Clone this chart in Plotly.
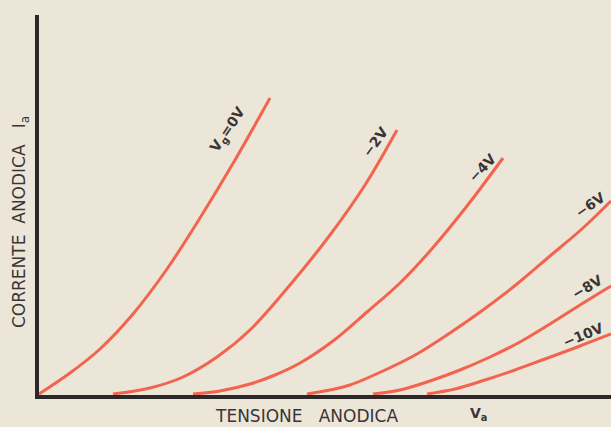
"""Caratteristiche anodiche di un triodo: Ia in funzione di Va per diverse Vg."""

import plotly.graph_objects as go

# valori, in unita' arbitrarie (asse Va 0-572, asse Ia 0-380)
va_0v = [0, 31, 61, 94, 128, 161, 196, 231]
ia_0v = [1, 22, 46, 81, 126, 177, 235, 297]

va_2v = [74, 111, 144, 178, 211, 251, 291, 326, 358]
ia_2v = [1, 7, 18, 38, 65, 110, 160, 210, 265]

va_4v = [154, 181, 211, 236, 261, 294, 328, 361, 391, 428, 464]
ia_4v = [1, 4, 11, 20, 32, 54, 83, 112, 144, 189, 237]

va_6v = [268, 291, 311, 344, 378, 411, 444, 478, 511, 544, 572]
ia_6v = [1, 5, 10, 24, 41, 62, 85, 111, 139, 167, 194]

va_8v = [334, 361, 391, 421, 451, 481, 511, 541, 572]
ia_8v = [1, 5, 14, 25, 38, 53, 71, 90, 109]

va_10v = [388, 416, 446, 476, 506, 541, 572]
ia_10v = [1, 6, 15, 25, 36, 49, 61]

curves = [
    (va_0v, ia_0v), (va_2v, ia_2v), (va_4v, ia_4v),
    (va_6v, ia_6v), (va_8v, ia_8v), (va_10v, ia_10v),
]

# etichette delle curve (tensione di griglia)
curve_labels = ["V<sub>g</sub>=0V", "−2V", "−4V", "−6V", "−8V", "−10V"]
label_va = [189, 336, 443, 551, 548, 544]
label_ia = [265, 253, 227, 190, 108, 60]
label_angle = [-56, -54, -47, -35, -31, -22]

W, H = 611, 427
L, R, T, B = 39, 0, 15, 32
PAPER = "#ece6d9"
RED = "#f2644e"
INK = "#3a3535"


def px(x, y):
    """Pixel della pagina -> coordinate paper."""
    return (x - L) / (W - L - R), (H - B - y) / (H - T - B)


fig = go.Figure()
for va, ia in curves:
    fig.add_trace(go.Scatter(
        x=va, y=ia, mode="lines",
        line=dict(color=RED, width=3, shape="spline", smoothing=1.0),
        hoverinfo="skip",
    ))

for text, x, y, ang in zip(curve_labels, label_va, label_ia, label_angle):
    fig.add_annotation(
        x=x, y=y, text=f"<b>{text}</b>", showarrow=False, textangle=ang,
        xanchor="center", yanchor="middle",
        font=dict(family="DejaVu Sans", size=14, color=INK),
    )

x, y = px(306, 416)
fig.add_annotation(
    x=x, y=y, xref="paper", yref="paper", text="TENSIONE   ANODICA",
    showarrow=False, xanchor="center", yanchor="middle",
    font=dict(family="DejaVu Sans", size=17, color=INK),
)
x, y = px(478, 414)
fig.add_annotation(
    x=x, y=y, xref="paper", yref="paper", text="<b>V<sub>a</sub></b>",
    showarrow=False, xanchor="center", yanchor="middle",
    font=dict(family="DejaVu Sans", size=14, color=INK),
)
x, y = px(20, 222)
fig.add_annotation(
    x=x, y=y, xref="paper", yref="paper", text="CORRENTE  ANODICA   I<sub>a</sub>",
    showarrow=False, textangle=-90, xanchor="center", yanchor="middle",
    font=dict(family="DejaVu Sans", size=17, color=INK),
)

axis = dict(
    showgrid=False, zeroline=False, showticklabels=False, ticks="",
    showline=True, linecolor="#2c2828", linewidth=4, fixedrange=True,
)
fig.update_layout(
    width=W, height=H,
    margin=dict(l=L, r=R, t=T, b=B),
    paper_bgcolor=PAPER, plot_bgcolor=PAPER,
    showlegend=False,
    xaxis=dict(range=[0, 572], **axis),
    yaxis=dict(range=[0, 380], **axis),
)

fig.write_html(
    "out.html",
    config={"displayModeBar": False},
    post_script="document.body.style.margin='0';",
)
